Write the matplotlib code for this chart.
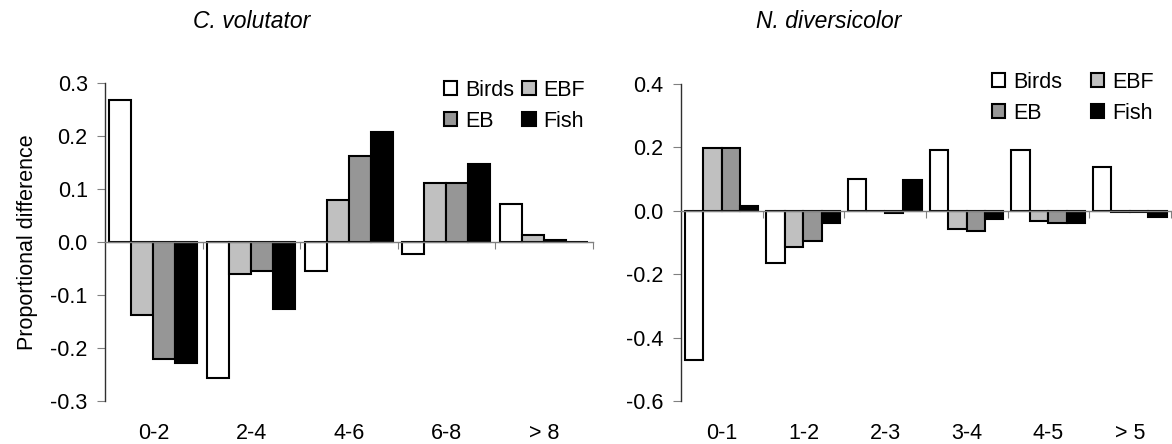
import matplotlib
matplotlib.use("Agg")
import matplotlib.pyplot as plt
import matplotlib.transforms as mtransforms
from matplotlib.patches import Patch
import numpy as np

plt.rcParams['font.family'] = ['Liberation Sans', 'DejaVu Sans']
plt.rcParams['axes.unicode_minus'] = False

series = ['Birds', 'EBF', 'EB', 'Fish']
colors = ['white', '#c0c0c0', '#969696', 'black']

# C. volutator
cv_cats = ['0-2', '2-4', '4-6', '6-8', '> 8']
cv_birds = [0.268, -0.257, -0.054, -0.023, 0.072]
cv_ebf = [-0.137, -0.061, 0.079, 0.112, 0.014]
cv_eb = [-0.220, -0.054, 0.162, 0.112, 0.003]
cv_fish = [-0.228, -0.126, 0.208, 0.148, 0.0]
cv_ticks = [-0.3, -0.2, -0.1, 0.0, 0.1, 0.2, 0.3]

# N. diversicolor
nd_cats = ['0-1', '1-2', '2-3', '3-4', '4-5', '> 5']
nd_birds = [-0.470, -0.166, 0.101, 0.191, 0.191, 0.139]
nd_ebf = [0.197, -0.114, 0.0, -0.058, -0.032, -0.005]
nd_eb = [0.197, -0.095, -0.007, -0.063, -0.038, -0.005]
nd_fish = [0.014, -0.040, 0.096, -0.027, -0.038, -0.019]
nd_ticks = [-0.6, -0.4, -0.2, 0.0, 0.2, 0.4]

FS = 15.5
W, H = 1172, 444

fig = plt.figure(figsize=(W / 100, H / 100), dpi=100)
ax1 = fig.add_axes([105 / W, 1 - 401 / H, (593 - 105) / W, (401 - 83) / H])
ax2 = fig.add_axes([681 / W, 1 - 401 / H, (1171 - 681) / W, (401 - 84) / H])


def draw(ax, cats, data, ticks):
    n = len(cats)
    x = np.arange(n)
    bw = 0.225
    for k, (vals, c) in enumerate(zip(data, colors)):
        ax.bar(x + 0.046 + bw * k, vals, width=bw, align='edge', color=c,
               edgecolor='black', linewidth=1.5, zorder=3)
    ax.set_xlim(0, n)
    ax.set_ylim(ticks[0], ticks[-1])
    ax.set_yticks(ticks)
    ax.set_yticklabels(['%.1f' % t for t in ticks], fontsize=FS)
    ax.spines['top'].set_visible(False)
    ax.spines['right'].set_visible(False)
    ax.spines['left'].set_color('#303030')
    ax.spines['left'].set_linewidth(1.0)
    ax.spines['bottom'].set_position(('data', 0))
    ax.spines['bottom'].set_color('#808080')
    ax.spines['bottom'].set_linewidth(1.0)
    ax.spines['bottom'].set_zorder(4)
    ax.set_xticks(np.arange(1, n + 1))
    ax.tick_params(axis='x', length=5, color='#808080', labelbottom=False)
    ax.tick_params(axis='y', length=6, color='#808080', pad=6.5)
    trans = mtransforms.blended_transform_factory(ax.transData, ax.transAxes)
    for i, c in enumerate(cats):
        ax.text(i + 0.5, -0.068, c, transform=trans, ha='center', va='top',
                fontsize=FS)


draw(ax1, cv_cats, [cv_birds, cv_ebf, cv_eb, cv_fish], cv_ticks)
draw(ax2, nd_cats, [nd_birds, nd_ebf, nd_eb, nd_fish], nd_ticks)

ax1.set_ylabel('Proportional difference', fontsize=FS, labelpad=9)

fig.text(252 / W, 1 - 22 / H, 'C. volutator', style='italic', fontsize=16.5,
         ha='center', va='center')
fig.text(829 / W, 1 - 22 / H, 'N. diversicolor', style='italic', fontsize=16.5,
         ha='center', va='center')

handles = [Patch(facecolor=colors[i], edgecolor='black', linewidth=1.5)
           for i in [0, 2, 1, 3]]
labels = [series[i] for i in [0, 2, 1, 3]]
for ax, x0, y0, cs in [(ax1, 444, 80, 0.4), (ax2, 992, 72, 1.35)]:
    ax.legend(handles, labels, ncol=2, fontsize=FS, frameon=False,
              handlelength=0.62, handleheight=0.62, handletextpad=0.35,
              columnspacing=cs, labelspacing=0.45, borderpad=0,
              borderaxespad=0, loc='upper left',
              bbox_to_anchor=(x0 / W, 1 - y0 / H),
              bbox_transform=fig.transFigure)

fig.savefig('out.png', dpi=100)
